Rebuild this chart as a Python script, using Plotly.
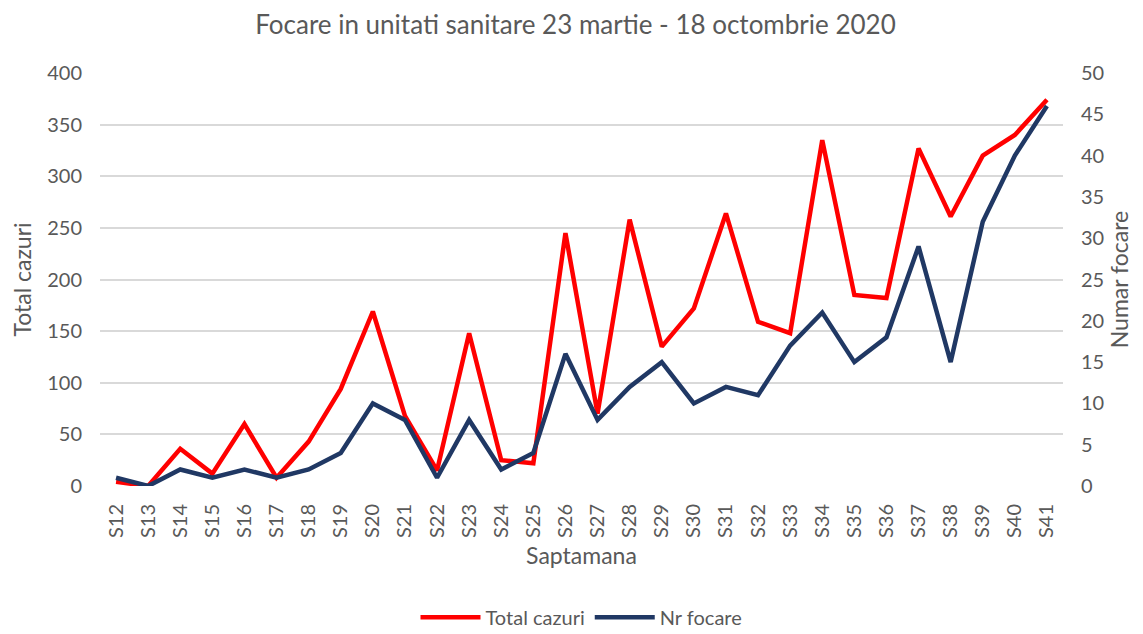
import plotly.graph_objects as go

weeks = ["S12","S13","S14","S15","S16","S17","S18","S19","S20","S21","S22","S23","S24","S25","S26",
         "S27","S28","S29","S30","S31","S32","S33","S34","S35","S36","S37","S38","S39","S40","S41"]
total_cazuri = [4, 0, 36, 12, 60, 8, 43, 94, 169, 68, 15, 148, 25, 22, 245,
                70, 258, 135, 172, 264, 159, 148, 335, 185, 182, 327, 261, 320, 340, 374]
nr_focare = [1, 0, 2, 1, 2, 1, 2, 4, 10, 8, 1, 8, 2, 4, 16,
             8, 12, 15, 10, 12, 11, 17, 21, 15, 18, 29, 15, 32, 40, 46]

FONT = "Lato, 'Open Sans', sans-serif"
GRAY = "#595959"
TICK = 20
AXT = 23

fig = go.Figure()
fig.add_trace(go.Scatter(x=weeks, y=total_cazuri, name="Total cazuri", mode="lines",
                         line=dict(color="#FF0000", width=4.5), yaxis="y"))
fig.add_trace(go.Scatter(x=weeks, y=nr_focare, name="Nr focare", mode="lines",
                         line=dict(color="#203864", width=4.5), yaxis="y2"))

# page body has an 8px margin, so the figure is sized to fill the 1143x634 window
fig.update_layout(
    width=1135, height=626,
    paper_bgcolor="white", plot_bgcolor="white",
    margin=dict(l=92, r=80, t=65, b=148, autoexpand=False),
    font=dict(family=FONT, color=GRAY, size=TICK),
    title=dict(text="Focare in unitati sanitare 23 martie - 18 octombrie 2020",
               x=0.5, xanchor="center", y=(626 - 17) / 626, yanchor="middle",
               font=dict(size=26, color=GRAY, family=FONT)),
    xaxis=dict(type="category", range=[-0.5, len(weeks) - 0.5], tickangle=-90,
               showgrid=False, ticks="outside", ticklen=9, tickcolor="rgba(0,0,0,0)",
               tickfont=dict(size=TICK, color=GRAY), automargin=False,
               title=dict(text="Saptamana", font=dict(size=AXT, color=GRAY), standoff=10),
               showline=False, zeroline=False),
    yaxis=dict(range=[0, 400], dtick=50, showgrid=True, gridcolor="#D9D9D9", gridwidth=1.5,
               zeroline=False, showline=False, ticks="outside", ticklen=13,
               tickcolor="rgba(0,0,0,0)", tickfont=dict(size=TICK, color=GRAY), automargin=False,
               title=dict(text="Total cazuri", font=dict(size=AXT, color=GRAY), standoff=10)),
    yaxis2=dict(range=[0, 50], dtick=5, overlaying="y", side="right", showgrid=False,
                zeroline=False, showline=False, ticks="outside", ticklen=13,
                tickcolor="rgba(0,0,0,0)", tickfont=dict(size=TICK, color=GRAY), automargin=False,
                title=dict(text="Numar focare", font=dict(size=AXT, color=GRAY), standoff=8)),
    legend=dict(orientation="h", x=0.5, xanchor="center", y=-0.318, yanchor="middle",
                font=dict(size=TICK, color=GRAY), traceorder="normal", itemwidth=60),
    showlegend=True,
)

fig.write_html("out.html")
